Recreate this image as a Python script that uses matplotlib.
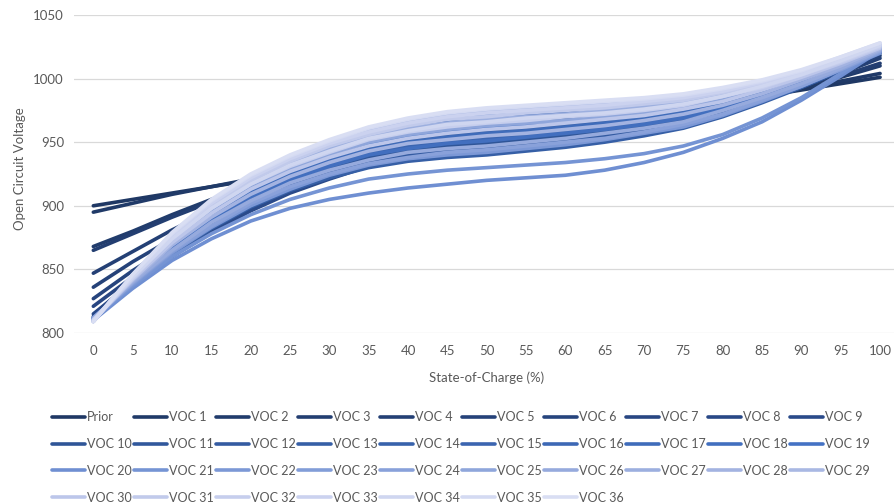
import matplotlib.pyplot as plt
import numpy as np
from matplotlib.colors import to_rgb

plt.rcParams['font.family'] = ['Lato', 'DejaVu Sans']

soc = list(range(0, 101, 5))

# OCV curves (one value per 5% SOC)
prior = [900, 905, 910, 915, 920, 925, 930, 935, 940, 945, 950, 955, 960, 966, 971, 976, 981, 986, 991, 996, 1001]
voc1 = [895, 902, 909, 915, 921, 928, 935, 942, 948, 953, 958, 962, 966, 970, 974, 978, 983, 988, 993, 998, 1004]
voc2 = [868, 880, 893, 905, 916, 927, 937, 945, 952, 957, 961, 964, 967, 970, 974, 978, 983, 989, 995, 1001, 1010]
voc3 = [865, 878, 891, 903, 915, 926, 936, 944, 951, 956, 960, 963, 966, 969, 973, 977, 982, 988, 995, 1002, 1012]
voc4 = [847, 864, 881, 896, 910, 922, 933, 942, 949, 954, 958, 961, 964, 967, 971, 975, 981, 988, 996, 1004, 1016]
voc5 = [836, 856, 874, 890, 905, 918, 930, 940, 947, 952, 956, 959, 962, 965, 969, 973, 979, 987, 996, 1006, 1018]
voc6 = [827, 849, 869, 886, 901, 915, 927, 937, 944, 949, 953, 956, 959, 962, 966, 970, 977, 985, 995, 1006, 1020]
voc7 = [821, 844, 865, 883, 899, 913, 925, 935, 942, 947, 951, 954, 957, 960, 964, 968, 975, 984, 995, 1007, 1021]
voc8 = [815, 840, 862, 881, 897, 911, 923, 933, 940, 945, 949, 952, 955, 958, 962, 967, 974, 983, 994, 1007, 1022]
voc9 = [813, 838, 860, 879, 896, 910, 921, 931, 938, 943, 947, 950, 953, 956, 960, 965, 973, 982, 994, 1007, 1022]
voc10 = [811, 840, 866, 888, 906, 919, 930, 938, 944, 947, 949, 952, 955, 958, 963, 968, 976, 986, 997, 1009, 1022]
voc11 = [810, 842, 871, 894, 912, 926, 937, 946, 952, 956, 959, 961, 964, 967, 970, 975, 982, 990, 1000, 1012, 1024]
voc12 = [812, 839, 865, 885, 903, 916, 927, 935, 940, 943, 946, 948, 951, 955, 960, 965, 973, 984, 995, 1008, 1021]
voc13 = [812, 838, 862, 882, 899, 912, 922, 930, 935, 938, 940, 943, 946, 950, 955, 961, 970, 981, 993, 1006, 1020]
voc14 = [810, 843, 873, 897, 916, 930, 941, 950, 957, 961, 964, 966, 968, 971, 974, 978, 985, 993, 1002, 1013, 1025]
voc15 = [811, 841, 868, 890, 908, 922, 933, 941, 947, 951, 953, 956, 958, 962, 966, 970, 978, 987, 998, 1010, 1023]
voc16 = [810, 844, 875, 900, 920, 934, 946, 955, 962, 966, 969, 971, 974, 976, 979, 982, 988, 995, 1004, 1015, 1026]
voc17 = [811, 842, 870, 892, 911, 925, 936, 944, 950, 954, 957, 959, 962, 965, 969, 973, 980, 989, 999, 1011, 1024]
voc18 = [811, 840, 867, 889, 907, 920, 931, 940, 945, 949, 951, 954, 957, 960, 964, 969, 977, 986, 997, 1009, 1022]
voc19 = [810, 843, 872, 895, 914, 928, 939, 948, 954, 959, 961, 964, 966, 969, 972, 976, 983, 991, 1001, 1012, 1025]
voc20 = [810, 835, 857, 874, 888, 898, 905, 910, 914, 917, 920, 922, 924, 928, 934, 942, 953, 966, 983, 1002, 1022]
voc21 = [811, 837, 860, 878, 893, 905, 914, 921, 925, 928, 930, 932, 934, 937, 941, 947, 956, 969, 985, 1004, 1023]
voc22 = [812, 838, 863, 883, 900, 913, 924, 932, 937, 940, 942, 945, 948, 952, 957, 962, 971, 982, 994, 1007, 1020]
voc23 = [809, 845, 877, 902, 921, 936, 948, 958, 964, 969, 972, 974, 976, 978, 981, 984, 990, 996, 1005, 1015, 1027]
voc24 = [812, 839, 864, 884, 902, 915, 925, 933, 938, 942, 944, 947, 950, 953, 958, 964, 972, 983, 994, 1007, 1021]
voc25 = [810, 843, 872, 896, 915, 929, 940, 950, 956, 960, 963, 965, 967, 970, 973, 977, 984, 992, 1002, 1013, 1025]
voc26 = [811, 840, 865, 887, 904, 918, 928, 936, 942, 945, 947, 950, 953, 957, 961, 966, 975, 985, 996, 1008, 1022]
voc27 = [810, 844, 875, 899, 919, 933, 945, 954, 961, 965, 968, 970, 972, 975, 978, 981, 987, 995, 1004, 1014, 1026]
voc28 = [811, 841, 869, 891, 909, 923, 934, 943, 949, 952, 955, 957, 960, 963, 967, 972, 979, 988, 999, 1010, 1023]
voc29 = [809, 845, 878, 903, 923, 938, 950, 960, 967, 971, 974, 976, 979, 981, 983, 986, 991, 998, 1006, 1016, 1027]
voc30 = [810, 842, 871, 894, 913, 927, 938, 947, 953, 957, 960, 962, 965, 968, 971, 976, 982, 991, 1001, 1012, 1024]
voc31 = [810, 845, 876, 901, 920, 935, 947, 956, 963, 968, 970, 973, 975, 977, 980, 983, 989, 996, 1004, 1015, 1027]
voc32 = [810, 843, 874, 898, 917, 931, 942, 952, 958, 962, 965, 967, 970, 972, 975, 979, 986, 993, 1003, 1013, 1025]
voc33 = [809, 845, 877, 902, 922, 937, 949, 958, 965, 970, 973, 975, 977, 979, 982, 985, 990, 997, 1005, 1016, 1027]
voc34 = [810, 844, 874, 898, 917, 932, 943, 953, 959, 964, 966, 969, 971, 973, 976, 980, 986, 994, 1003, 1014, 1026]
voc35 = [809, 846, 878, 904, 924, 939, 951, 961, 968, 973, 976, 978, 980, 982, 984, 987, 992, 998, 1006, 1017, 1028]
voc36 = [809, 846, 879, 905, 925, 940, 952, 962, 969, 974, 977, 979, 981, 983, 985, 988, 993, 999, 1007, 1017, 1028]

curves = [prior, voc1, voc2, voc3, voc4, voc5, voc6, voc7, voc8, voc9,
          voc10, voc11, voc12, voc13, voc14, voc15, voc16, voc17, voc18, voc19,
          voc20, voc21, voc22, voc23, voc24, voc25, voc26, voc27, voc28, voc29,
          voc30, voc31, voc32, voc33, voc34, voc35, voc36]
names = ['Prior'] + ['VOC %d' % i for i in range(1, 37)]

# dark navy -> light lavender gradient over the series
anchor_idx = [0, 9, 10, 19, 20, 29, 30, 36]
anchor_col = ['#1F3864', '#2A4A8A', '#2F5597', '#4472C4', '#6F8FD2', '#A9B8E3', '#BCC6EA', '#D9DEF3']
rgb = np.array([to_rgb(c) for c in anchor_col])
colors = [tuple(np.interp(i, anchor_idx, rgb[:, k]) for k in range(3)) for i in range(len(curves))]

fig = plt.figure(figsize=(8.95, 5.04), dpi=100)
ax = fig.add_axes([0.0823, 0.3393, 0.923, 0.631])

lines = []
for y, name, c in zip(curves, names, colors):
    ln, = ax.plot(soc, y, color=c, lw=2.6, label=name, solid_capstyle='round')
    lines.append(ln)

ax.set_xlim(-2.5, 102.5)
ax.set_ylim(800, 1050)
ax.set_xticks(soc)
ax.set_yticks(range(800, 1051, 50))
ax.grid(axis='y', color='#D9D9D9', lw=0.9)
ax.set_axisbelow(True)
for s in ax.spines.values():
    s.set_visible(False)
ax.tick_params(length=0, colors='#595959', labelsize=9.5)
ax.tick_params(axis='y', pad=7)
ax.tick_params(axis='x', pad=9)

ax.set_xlabel('State-of-Charge (%)', color='#595959', fontsize=9.5)
ax.set_ylabel('Open Circuit Voltage', color='#595959', fontsize=9.5)
ax.xaxis.set_label_coords(0.5, -0.12)
ax.yaxis.set_label_coords(-0.058, 0.516)

# legend fills column-first, so reorder to get row-major layout
order = [r * 10 + c for c in range(10) for r in range(4) if r * 10 + c < len(curves)]
fig.legend([lines[i] for i in order], [names[i] for i in order], ncol=10,
           loc='upper left', bbox_to_anchor=(52 / 895, 1 - 411 / 504),
           frameon=False, handlelength=2.6, handletextpad=0.2, columnspacing=0.18,
           labelspacing=1.19, borderpad=0, borderaxespad=0, fontsize=9,
           labelcolor='#595959')

fig.savefig('out.png', dpi=100)
